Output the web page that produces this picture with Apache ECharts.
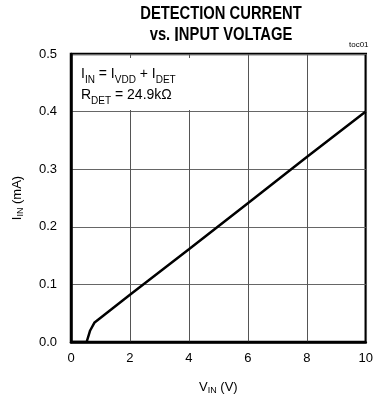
<!DOCTYPE html>
<html><head><meta charset="utf-8">
<script src="https://cdn.jsdelivr.net/npm/echarts@6/dist/echarts.min.js"></script>
<style>html,body{margin:0;padding:0;background:#fff}#c{width:376px;height:402px}</style>
</head><body><div id="c"></div>
<script>
var vin = [0, 0.53, 0.65, 0.8, 2, 4, 6, 8, 10];
var iin = [0, 0, 0.02, 0.034, 0.082, 0.161, 0.241, 0.321, 0.4];
var xTicks = [0, 2, 4, 6, 8, 10];
var yTicks = [0.0, 0.1, 0.2, 0.3, 0.4, 0.5];

var F = 'Liberation Sans, Arial, sans-serif';
var chart = echarts.init(document.getElementById('c'), null, {renderer: 'canvas'});
var sub = {fontSize: 9, fontFamily: F, color: '#000', verticalAlign: 'bottom', padding: [6, 0, 0, 0]};
var main = {fontSize: 13, fontFamily: F, color: '#000'};
chart.setOption({
  animation: false,
  backgroundColor: '#fff',
  grid: {left: 71, right: 7, top: 54, bottom: 60, show: true, borderColor: '#000', borderWidth: 2.5, backgroundColor: 'transparent'},
  xAxis: {
    type: 'value', min: 0, max: 10, interval: 2,
    axisLine: {show: true, lineStyle: {color: '#000', width: 2.5}},
    axisTick: {show: false},
    splitLine: {show: true, lineStyle: {color: '#555', width: 1}},
    axisLabel: {color: '#000', fontSize: 13, fontFamily: F, margin: 10,
      formatter: function (v) { return xTicks.indexOf(v) >= 0 ? String(v) : ''; }},
    name: '{m|V}{s|IN}{m| (V)}', nameLocation: 'middle', nameGap: 38,
    nameTextStyle: {rich: {m: main, s: sub}}
  },
  yAxis: {
    type: 'value', min: 0, max: 0.5, interval: 0.1,
    axisLine: {show: true, lineStyle: {color: '#000', width: 2.5}},
    axisTick: {show: false},
    splitLine: {show: true, lineStyle: {color: '#666', width: 1}},
    axisLabel: {color: '#000', fontSize: 13, fontFamily: F, margin: 14,
      formatter: function (v) { return v.toFixed(1); }},
    name: '{m|I}{s|IN}{m| (mA)}', nameLocation: 'middle', nameGap: 46, nameRotate: 90,
    nameTextStyle: {rich: {m: main, s: sub}}
  },
  graphic: [
    {type: 'text', x: 221, y: 4, scaleX: 0.82, z: 10,
      style: {
        text: '{b|DETECTION CURRENT}\n{b|vs. }{big|I}{b|NPUT VOLTAGE}',
        align: 'center',
        rich: {
          b: {fontSize: 18, fontWeight: 'bold', fontFamily: F, fill: '#000', lineHeight: 21, align: 'center'},
          big: {fontSize: 20, fontWeight: 'bold', fontFamily: F, fill: '#000', lineHeight: 21}
        }
      }},
    {type: 'text', left: 349, top: 41, style: {text: 'toc01', font: '8px ' + F, fill: '#000'}},
    {type: 'text', left: 73, top: 58, z: 10,
      style: {
        text: '{m|I}{s|IN}{m| = I}{s|VDD}{m| + I}{s|DET}\n{m|R}{s|DET}{m| = 24.9kΩ}',
        backgroundColor: '#fff', padding: [6, 40, 4, 8],
        rich: {m: {fontSize: 14, fontFamily: F, fill: '#000', lineHeight: 21}, s: {fontSize: 10, fontFamily: F, fill: '#000', verticalAlign: 'bottom', padding: [7, 0, 0, 0], lineHeight: 21}}
      }}
  ],
  series: [{
    type: 'line', data: vin.map(function (x, i) { return [x, iin[i]]; }),
    showSymbol: false, lineStyle: {color: '#000', width: 2.5}, z: 5
  }]
});
</script></body></html>
